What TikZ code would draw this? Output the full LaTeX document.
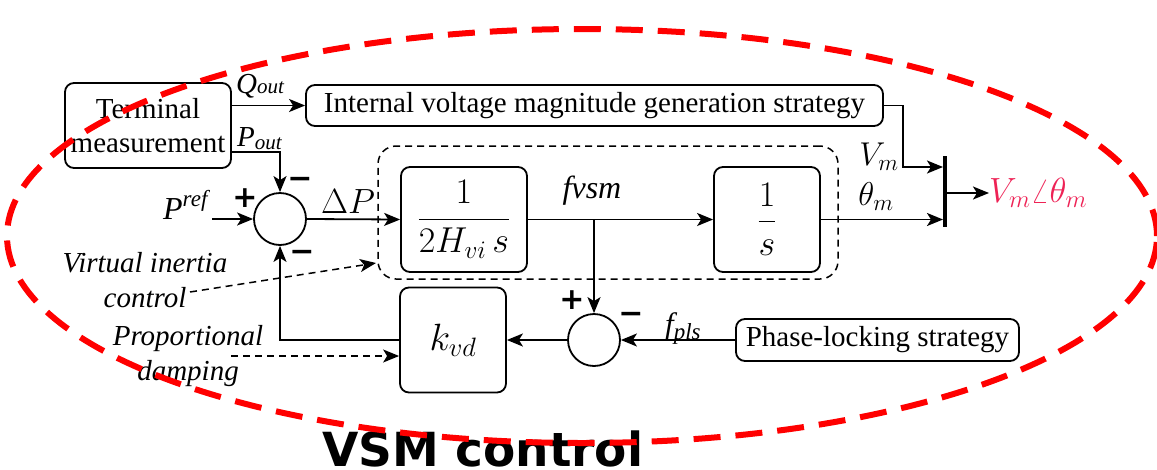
\RequirePackage{fix-cm}
\documentclass[tikz,border=0pt]{standalone}
\usepackage{amsmath}
\usepackage[no-math]{fontspec}
\setmainfont{Liberation Serif}[ItalicFont={Liberation Serif Italic},BoldFont={Liberation Serif Bold}]
\newfontfamily\dejavu{DejaVu Sans}
\usetikzlibrary{arrows.meta}
\definecolor{vsmred}{RGB}{255,0,0}
\definecolor{outred}{RGB}{238,34,85}
\tikzset{
 blk/.style={draw, rounded corners=9pt, line width=1.8pt, inner sep=0pt, align=center, font=\fontsize{29}{36}\selectfont},
 sumnode/.style={draw, circle, minimum size=52pt, inner sep=0pt, line width=1.8pt},
 arr/.style={-{Stealth[length=16pt,width=13pt,inset=4pt]}, line width=1.8pt},
 darr/.style={arr, line width=1.5pt, dash pattern=on 7pt off 5pt},
 ilbl/.style={inner sep=0pt, font=\fontsize{29}{35}\selectfont\itshape, align=center},
 mth/.style={inner sep=0pt, font=\fontsize{35}{40}\selectfont},
 sign/.style={inner sep=0pt, font=\dejavu\bfseries\fontsize{30}{30}\selectfont},
 dbox/.style={draw, rounded corners=18pt, line width=1.5pt, dash pattern=on 7pt off 5pt, inner sep=0pt},
 ellip/.style={draw=vsmred, line width=6pt, dash pattern=on 27pt off 15pt},
}
\begin{document}
\begin{tikzpicture}[x=1pt,y=-1pt]
\path[use as bounding box, fill=white] (0,0) rectangle (1157,469);

% blocks
\node[blk, minimum width=166pt, minimum height=85pt] (tm) at (148,125.5) {Terminal\\[-2pt]measurement};
\node[blk, minimum width=577pt, minimum height=41pt] (int) at (594.5,105.5) {Internal voltage magnitude generation strategy};
\node[dbox, minimum width=460pt, minimum height=133pt] (vic) at (608,212.5) {};
\node[sumnode] (s1) at (280,219) {};
\node[blk, minimum width=126pt, minimum height=105pt, font=\fontsize{36}{40}\selectfont] (b1) at (464,219.5) {$\dfrac{1}{2H_{vi}\,s}$};
\node[blk, minimum width=106pt, minimum height=105pt, font=\fontsize{36}{40}\selectfont] (b2) at (767,219.5) {$\dfrac{1}{s}$};
\node[sumnode] (s2) at (594,340) {};
\node[blk, minimum width=106pt, minimum height=105pt, font=\fontsize{38}{40}\selectfont] (kvd) at (453,340) {$k_{vd}$};
\node[blk, minimum width=283pt, minimum height=42pt] (pls) at (877.5,340) {Phase-locking strategy};
\node[fill=black, minimum width=3.6pt, minimum height=71pt, inner sep=0pt] (bar) at (945,191.5) {};

% labels
\node[inner sep=0pt, anchor=base west, font=\fontsize{29}{30}\selectfont\itshape] (qout) at (236,93) {Q{\fontsize{21}{21}\selectfont out}};
\node[inner sep=0pt, anchor=base west, font=\fontsize{29}{30}\selectfont\itshape] (pout) at (237,146) {P{\fontsize{21}{21}\selectfont\raisebox{-3pt}{out}}};
\node[inner sep=0pt, anchor=base west, font=\fontsize{32}{32}\selectfont\itshape] (pref) at (163,219) {P\raisebox{13pt}{\fontsize{23}{23}\selectfont ref}};
\node[mth] (dp) at (348,202) {$\Delta P$};
\node[inner sep=0pt, font=\fontsize{32}{32}\selectfont\itshape] (fvsm) at (592,191) {fvsm};
\node[inner sep=0pt, anchor=base west, font=\fontsize{31}{31}\selectfont\itshape] (fpls) at (665,334) {f\raisebox{-5pt}{\fontsize{23}{23}\selectfont pls}};
\node[mth, font=\fontsize{33}{36}\selectfont] (vm) at (879,157) {$V_m$};
\node[mth, font=\fontsize{33}{36}\selectfont] (thm) at (876,197) {$\theta_m$};
\node[mth, anchor=west, text=outred] (vout) at (989,193) {$V_m\angle\theta_m$};
\node[ilbl] (vi) at (145,280) {Virtual inertia\\control};
\node[ilbl] (pd) at (188,356) {Proportional\\damping};

% signs
\node[sign] (p1) at (245,198) {+};
\node[sign] (m1) at (300,183) {−};
\node[sign] (m2) at (302,256) {−};
\node[sign] (p2) at (572,300) {+};
\node[sign] (m3) at (631,318) {−};

% coordinates for free ends
\coordinate (prefend) at (212,219);
\coordinate (vmc) at (903,167);
\coordinate (vistart) at (190,292);
\coordinate (viend) at (376,263);
\coordinate (pdstart) at (231,356);

% connectors
\draw[arr] (int.west -| tm.east) -- (int.west);
\draw[arr] ([yshift=-26.5pt]tm.east) -| (s1.north);
\draw[arr] (prefend) -- (s1.west);
\draw[arr] (s1.east) -- (b1.west);
\draw[arr] (b1.east) -- (b2.west);
\draw[arr] (s2.north |- b1.east) -- (s2.north);
\draw[arr] (pls.west) -- (s2.east);
\draw[arr] (s2.west) -- (kvd.east);
\draw[arr] (kvd.west) -| (s1.south);
\draw[arr] (int.east) -| (vmc) -- (vmc -| bar.west);
\draw[arr] (b2.east) -- (b2.east -| bar.west);
\draw[arr] (bar.east |- vout.west) -- (vout.west);
\draw[darr] (vistart) -- (viend);
\draw[darr] (pdstart) -- (pdstart -| kvd.west);

% title
\node[inner sep=0pt, anchor=base west, font=\dejavu\bfseries\fontsize{47}{47}\selectfont] (title) at (322,466) {VSM control};

% red dashed ellipse
\draw[ellip] (582,236) ellipse [x radius=575pt, y radius=207pt];
\end{tikzpicture}
\end{document}
